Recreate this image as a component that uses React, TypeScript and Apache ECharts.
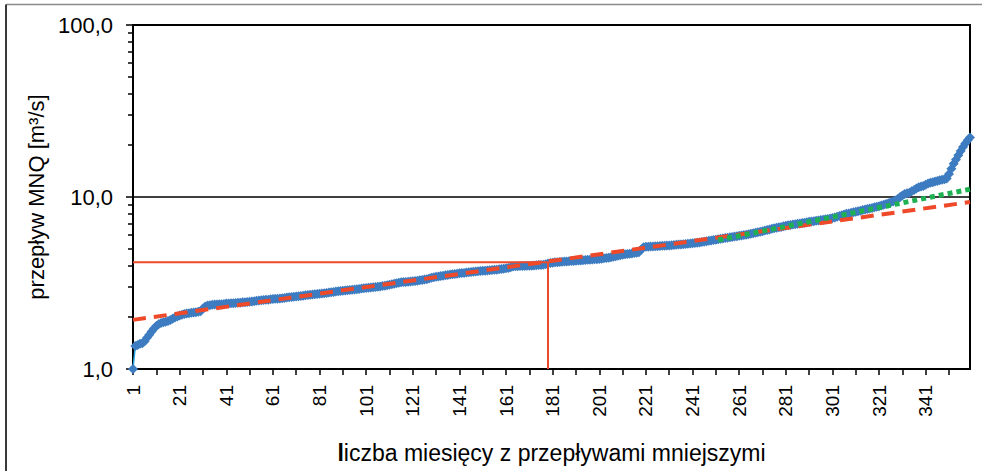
import React, { useEffect, useRef } from 'react';
import * as echarts from 'echarts';

// liczba miesięcy (1..360)
const months: string[] = Array.from({ length: 360 }, (_, i) => String(i + 1));

// przepływ MNQ [m3/s], uporządkowany rosnąco (odczyt z wykresu)
const flowMNQ: number[] = [
  1.00, 1.36, 1.38, 1.40, 1.41, 1.45, 1.52, 1.58, 1.65, 1.72,
  1.78, 1.82, 1.85, 1.87, 1.88, 1.90, 1.93, 1.96, 1.99, 2.02,
  2.05, 2.07, 2.09, 2.10, 2.11, 2.12, 2.13, 2.14, 2.15, 2.17,
  2.25, 2.31, 2.34, 2.35, 2.36, 2.37, 2.37, 2.38, 2.38, 2.39,
  2.40, 2.40, 2.41, 2.41, 2.42, 2.43, 2.43, 2.44, 2.44, 2.45,
  2.46, 2.47, 2.48, 2.49, 2.50, 2.51, 2.52, 2.53, 2.53, 2.54,
  2.55, 2.56, 2.56, 2.57, 2.58, 2.59, 2.60, 2.61, 2.62, 2.63,
  2.64, 2.65, 2.66, 2.67, 2.68, 2.69, 2.70, 2.71, 2.72, 2.73,
  2.74, 2.75, 2.76, 2.77, 2.78, 2.79, 2.80, 2.82, 2.83, 2.84,
  2.85, 2.86, 2.87, 2.88, 2.89, 2.90, 2.91, 2.92, 2.94, 2.95,
  2.96, 2.97, 2.98, 2.99, 3.00, 3.01, 3.02, 3.04, 3.05, 3.07,
  3.09, 3.11, 3.13, 3.15, 3.17, 3.19, 3.20, 3.21, 3.22, 3.23,
  3.24, 3.25, 3.26, 3.28, 3.29, 3.31, 3.33, 3.36, 3.39, 3.42,
  3.44, 3.45, 3.47, 3.49, 3.51, 3.52, 3.54, 3.55, 3.57, 3.58,
  3.60, 3.61, 3.62, 3.64, 3.65, 3.66, 3.68, 3.69, 3.70, 3.71,
  3.72, 3.73, 3.74, 3.75, 3.76, 3.77, 3.78, 3.80, 3.81, 3.83,
  3.85, 3.87, 3.90, 3.94, 3.96, 3.96, 3.97, 3.97, 3.97, 3.98,
  3.98, 3.99, 4.00, 4.01, 4.02, 4.03, 4.04, 4.06, 4.10, 4.13,
  4.15, 4.17, 4.18, 4.19, 4.20, 4.21, 4.22, 4.23, 4.24, 4.25,
  4.26, 4.27, 4.28, 4.29, 4.30, 4.31, 4.32, 4.33, 4.34, 4.35,
  4.36, 4.38, 4.40, 4.42, 4.44, 4.47, 4.50, 4.53, 4.56, 4.59,
  4.62, 4.64, 4.66, 4.68, 4.70, 4.72, 4.74, 4.78, 4.95, 5.10,
  5.13, 5.14, 5.15, 5.16, 5.17, 5.18, 5.19, 5.20, 5.21, 5.22,
  5.23, 5.24, 5.26, 5.27, 5.29, 5.30, 5.32, 5.33, 5.35, 5.37,
  5.38, 5.40, 5.42, 5.44, 5.47, 5.50, 5.53, 5.56, 5.59, 5.62,
  5.65, 5.68, 5.71, 5.74, 5.77, 5.80, 5.83, 5.86, 5.89, 5.92,
  5.95, 5.98, 6.01, 6.04, 6.08, 6.12, 6.16, 6.20, 6.24, 6.28,
  6.33, 6.38, 6.43, 6.48, 6.53, 6.58, 6.62, 6.66, 6.70, 6.75,
  6.80, 6.85, 6.88, 6.91, 6.94, 6.98, 7.01, 7.05, 7.09, 7.13,
  7.17, 7.20, 7.23, 7.27, 7.30, 7.34, 7.38, 7.42, 7.46, 7.50,
  7.55, 7.61, 7.68, 7.76, 7.84, 7.92, 7.98, 8.03, 8.09, 8.15,
  8.21, 8.27, 8.33, 8.39, 8.45, 8.51, 8.57, 8.64, 8.71, 8.78,
  8.85, 8.93, 9.01, 9.10, 9.20, 9.31, 9.43, 9.55, 9.75, 10.0,
  10.2, 10.4, 10.5, 10.6, 10.8, 11.0, 11.2, 11.4, 11.5, 11.6,
  11.8, 12.0, 12.1, 12.2, 12.3, 12.4, 12.5, 12.6, 12.7, 12.8,
  13.6, 14.6, 15.6, 16.5, 17.5, 18.5, 19.5, 20.5, 21.4, 22.2,
];

// linie trendu (końce odcinków: [indeks miesiąca, przepływ])
const redTrend: [number, number][] = [[0, 1.93], [359, 9.35]];
const greenTrend: [number, number][] = [[251, 5.62], [359, 11.1]];

// odczyt progu
const thresholdIndex = 178;
const thresholdFlow = 4.17;
const thresholdLine: [number, number][] = [
  [0, thresholdFlow],
  [thresholdIndex, thresholdFlow],
  [thresholdIndex, 1],
];

// podziałka pomocnicza osi logarytmicznej
const minorTickValues: number[] = [2, 3, 4, 5, 6, 7, 8, 9, 20, 30, 40, 50, 60, 70, 80, 90];

const FONT = '"Liberation Sans", Arial, sans-serif';
const RED = '#ee4a2a';

export default function App() {
  const ref = useRef<HTMLDivElement>(null);
  useEffect(() => {
    if (!ref.current) return;
    const chart = echarts.init(ref.current, null, { renderer: 'svg' });
    chart.setOption({
      animation: false,
      backgroundColor: '#fff',
      textStyle: { fontFamily: FONT },
      grid: {
        left: 133, right: 12, top: 25, bottom: 102,
        show: true, borderColor: '#000', borderWidth: 2,
      },
      graphic: [
        { type: 'line', shape: { x1: 6, y1: 4.5, x2: 982, y2: 4.5 }, style: { stroke: '#8a8a8a', lineWidth: 1.5 } },
        { type: 'line', shape: { x1: 6, y1: 4.5, x2: 6, y2: 471 }, style: { stroke: '#3a3a3a', lineWidth: 2 } },
      ],
      xAxis: {
        type: 'category',
        data: months,
        boundaryGap: false,
        axisLine: { show: true, lineStyle: { color: '#000', width: 2 } },
        axisTick: {
          show: true,
          interval: (i: number) => i % 10 === 0,
          length: 6,
          lineStyle: { color: '#000', width: 1.5 },
        },
        axisLabel: {
          interval: (i: number) => i % 20 === 0,
          rotate: 90, margin: 16, fontSize: 19, color: '#000', fontFamily: FONT,
        },
        splitLine: { show: false },
        name: '{b|l}{n|iczba miesięcy z przepływami mniejszymi}',
        nameLocation: 'middle',
        nameGap: 72,
        nameTextStyle: {
          rich: {
            b: { fontSize: 23, fontWeight: 'bold', color: '#000', fontFamily: FONT },
            n: { fontSize: 23, color: '#000', fontFamily: FONT },
          },
        },
      },
      yAxis: [
        {
          type: 'log', logBase: 10, min: 1, max: 100,
          axisLine: { show: true, lineStyle: { color: '#000', width: 2 } },
          axisTick: { show: true, length: 7, lineStyle: { color: '#000', width: 1.5 } },
          splitLine: { show: true, lineStyle: { color: '#000', width: 1.5 } },
          axisLabel: {
            formatter: (v: number) => v.toFixed(1).replace('.', ','),
            fontSize: 22, margin: 20, color: '#000', fontFamily: FONT,
          },
          name: 'przepływ MNQ [m³/s]',
          nameLocation: 'middle',
          nameGap: 82,
          nameTextStyle: { fontSize: 22, color: '#000', fontFamily: FONT },
        },
        {
          type: 'log', logBase: 10, min: 1, max: 100,
          position: 'left',
          axisLine: { show: false },
          axisLabel: { show: false },
          splitLine: { show: false },
          axisTick: {
            show: true,
            customValues: minorTickValues,
            length: 5,
            lineStyle: { color: '#000', width: 1.5 },
          },
        },
      ],
      series: [
        {
          name: 'MNQ', type: 'line', data: flowMNQ, showAllSymbol: true,
          symbol: 'diamond', symbolSize: 10,
          itemStyle: { color: '#3d7cc1' },
          lineStyle: { color: '#22a6e6', width: 1.5 },
          z: 2,
        },
        {
          name: 'trend', type: 'line', data: redTrend, symbol: 'none',
          lineStyle: { color: RED, width: 4, type: [13, 8] }, z: 3,
        },
        {
          name: 'trend2', type: 'line', data: greenTrend, symbol: 'none',
          lineStyle: { color: '#1db152', width: 5, type: [5, 4] }, z: 4,
        },
        {
          name: 'próg', type: 'line', data: thresholdLine, symbol: 'none',
          lineStyle: { color: RED, width: 2 }, z: 4,
        },
      ],
    });
    return () => chart.dispose();
  }, []);
  return (
    <div
      ref={ref}
      style={{ position: 'fixed', left: 0, top: 0, width: 982, height: 471, background: '#fff' }}
    />
  );
}
